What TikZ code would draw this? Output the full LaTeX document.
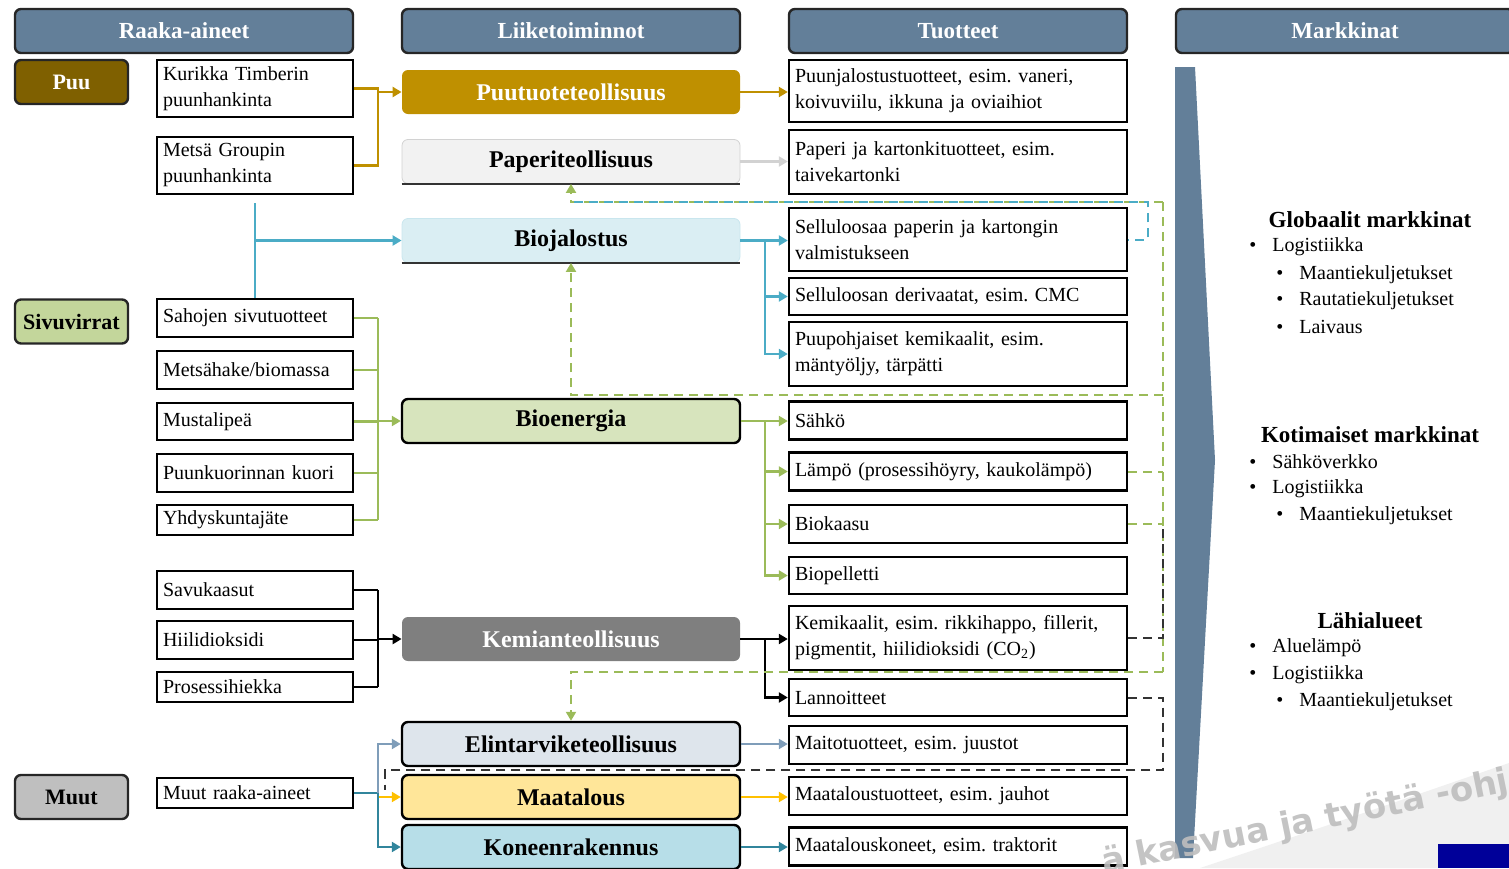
\documentclass[tikz,border=0pt]{standalone}
\usepackage{fontspec}
\setmainfont{Liberation Serif}
\newfontfamily\wmfont{DejaVu Sans}
\usetikzlibrary{arrows.meta}
\frenchspacing
\newcommand\bodyfont{\fontsize{10}{13}\selectfont}
\definecolor{slate}{RGB}{99,127,153}
\definecolor{puubrown}{RGB}{127,96,0}
\definecolor{gold}{RGB}{191,144,0}
\definecolor{paperfill}{RGB}{242,242,242}
\definecolor{paperline}{RGB}{210,210,210}
\definecolor{biofill}{RGB}{218,238,243}
\definecolor{bioblue}{RGB}{75,172,198}
\definecolor{energyfill}{RGB}{215,228,189}
\definecolor{sidefill}{RGB}{195,214,155}
\definecolor{leafgreen}{RGB}{155,187,89}
\definecolor{chemgrey}{RGB}{127,127,127}
\definecolor{muutgrey}{RGB}{191,191,191}
\definecolor{foodfill}{RGB}{222,229,236}
\definecolor{foodline}{RGB}{127,157,185}
\definecolor{farmfill}{RGB}{255,230,153}
\definecolor{farmline}{RGB}{255,192,0}
\definecolor{machfill}{RGB}{183,222,232}
\definecolor{machline}{RGB}{49,133,156}
\definecolor{wmgrey}{RGB}{190,190,190}
\definecolor{swoosh}{RGB}{240,240,240}
\definecolor{navyblock}{RGB}{0,0,153}
\begin{document}
\begin{tikzpicture}[x=0.5pt,y=-0.5pt,
	head/.style={draw=black!85,line width=1.2pt,rounded corners=3pt,fill=slate,text=white,minimum width=169pt,minimum height=22pt,font=\fontsize{11.5}{13}\selectfont\bfseries},
	cat/.style={draw=black!85,line width=1.2pt,rounded corners=3pt,minimum width=56.5pt,minimum height=22pt,inner sep=1pt,font=\fontsize{11}{13}\selectfont\bfseries},
	raw/.style={draw,line width=1.2pt,text width=92pt,inner xsep=3pt,inner ysep=0pt,minimum height=19pt,align=left,font=\bodyfont},
	biz/.style={rounded corners=3pt,minimum width=169pt,minimum height=22pt,font=\fontsize{12}{14}\selectfont\bfseries},
	prod/.style={draw,line width=1.2pt,text width=163pt,inner xsep=3pt,inner ysep=0pt,minimum height=19pt,align=left,font=\bodyfont},
	mhead/.style={font=\fontsize{11.5}{13}\selectfont\bfseries,inner sep=0pt},
	mitem/.style={anchor=west,font=\bodyfont,inner sep=0pt},
	conn/.style={line width=1.2pt},
	arr/.style={-{Triangle[length=4.5pt,width=5pt]}},
	dline/.style={line width=1pt,dash pattern=on 4.5pt off 3pt}]
	\useasboundingbox (0,0) rectangle (1509,868);
	%background----------------------------------
	\fill[swoosh] (1200,868) .. controls (1330,825) and (1430,790) .. (1509,763) -- (1509,868) -- cycle; %grey swoosh
	\fill[navyblock] (1438,844) rectangle (1509,868); %blue corner block
	%headers-------------------------------------
	\node[head] (hRaaka) at (184,31) {Raaka-aineet};
	\node[head] (hLiike) at (571,31) {Liiketoiminnot};
	\node[head] (hTuote) at (958,31) {Tuotteet};
	\node[head] (hMarkk) at (1345,31) {Markkinat};
	%raw materials-------------------------------
		%categories
		\node[cat,fill=puubrown,text=white] (puu) at (71.5,82) {Puu};
		\node[cat,fill=sidefill] (sivu) at (71.5,321.5) {Sivuvirrat};
		\node[cat,fill=muutgrey] (muut) at (71.5,797) {Muut};
		%sources
		\node[raw,minimum height=28.5pt] (kur) at (255,88.5) {Kurikka Timberin\\puunhankinta};
		\node[raw,minimum height=28.5pt] (metsa) at (255,165.5) {Metsä Groupin\\puunhankinta};
		\node[raw] (saho) at (255,318) {Sahojen sivutuotteet};
		\node[raw] (hake) at (255,370) {Metsähake/biomassa};
		\node[raw,minimum height=18.5pt] (musta) at (255,421.5) {Mustalipeä};
		\node[raw] (kuori) at (255,473) {Puunkuorinnan kuori};
		\node[raw,minimum height=15pt] (yhd) at (255,520) {Yhdyskuntajäte};
		\node[raw] (savu) at (255,590) {Savukaasut};
		\node[raw] (hiili) at (255,640) {Hiilidioksidi};
		\node[raw,minimum height=15pt] (pros) at (255,687) {Prosessihiekka};
		\node[raw,minimum height=15pt] (muutr) at (255,793) {Muut raaka-aineet};
	%business------------------------------------
	\node[biz,fill=gold,text=white] (puutuote) at (571,92) {Puutuoteteollisuus};
	\node[biz,fill=paperfill,draw=paperline] (paperi) at (571,161.5) {Paperiteollisuus};
	\node[biz,fill=biofill,draw=bioblue!30] (bioj) at (571,240.5) {Biojalostus};
	\node[biz,fill=energyfill,draw,line width=1.2pt] (bioen) at (571,421) {Bioenergia};
	\node[biz,fill=chemgrey,text=white] (kemia) at (571,639) {Kemianteollisuus};
	\node[biz,fill=foodfill,draw,line width=1.2pt] (elin) at (571,744) {Elintarviketeollisuus};
	\node[biz,fill=farmfill,draw,line width=1.2pt] (maat) at (571,797) {Maatalous};
	\node[biz,fill=machfill,draw,line width=1.2pt] (kone) at (571,847) {Koneenrakennus};
	\draw[black!80,line width=0.8pt] (paperi.south west) -- (paperi.south east); %shadow
	\draw[black!80,line width=0.8pt] (bioj.south west) -- (bioj.south east); %shadow
	%products------------------------------------
	\node[prod,minimum height=31pt] (p1) at (958,91) {Puunjalostustuotteet, esim. vaneri,\\koivuviilu, ikkuna ja oviaihiot};
	\node[prod,minimum height=32pt] (p2) at (958,162) {Paperi ja kartonkituotteet, esim.\\taivekartonki};
	\node[prod,minimum height=31.5pt] (p3) at (958,239.5) {Selluloosaa paperin ja kartongin\\valmistukseen};
	\node[prod,minimum height=18.5pt] (p4) at (958,296.5) {Selluloosan derivaatat, esim. CMC};
	\node[prod,minimum height=32pt] (p5) at (958,354) {Puupohjaiset kemikaalit, esim.\\mäntyöljy, tärpätti};
	\node[prod] (p6) at (958,420.5) {Sähkö};
	\node[prod] (p7) at (958,471.5) {Lämpö (prosessihöyry, kaukolämpö)};
	\node[prod] (p8) at (958,524) {Biokaasu};
	\node[prod,minimum height=18.5pt] (p9) at (958,575.5) {Biopelletti};
	\node[prod,minimum height=32pt] (p10) at (958,638) {Kemikaalit, esim. rikkihappo, fillerit,\\pigmentit, hiilidioksidi (CO\textsubscript{2})};
	\node[prod,minimum height=18.5pt] (p11) at (958,697.5) {Lannoitteet};
	\node[prod] (p12) at (958,745) {Maitotuotteet, esim. juustot};
	\node[prod] (p13) at (958,796) {Maataloustuotteet, esim. jauhot};
	\node[prod] (p14) at (958,846.5) {Maatalouskoneet, esim. traktorit};
	%bus lines-----------------------------------
	\coordinate (busL) at (378,0); %left bus
	\coordinate (busR) at (765,0); %right bus
	\coordinate (bTop) at (255,203); %blue start
	\coordinate (gTop) at (1163,202); %dashed top
	\coordinate (gMid) at (1163,395); %dashed middle
	\coordinate (gLow) at (1163,672); %dashed low
	\coordinate (bCorner) at (1148,202); %blue dashed corner
	\coordinate (kBot) at (1163,770); %black dashed corner
	\coordinate (kCorner) at (385,770); %black dashed end
	%Puu----------------------------------------
	\draw[conn,gold] (kur.east) -| (busL |- metsa.east) -- (metsa.east);
	\draw[conn,gold,arr] (busL |- puutuote.west) -- (puutuote.west);
	\draw[conn,gold,arr] (puutuote.east) -- (puutuote.east -| p1.west);
	\draw[conn,paperline,arr] (paperi.east) -- (paperi.east -| p2.west);
	\draw[conn,bioblue] (bTop) -- (saho.north);
	\draw[conn,bioblue,arr] (bTop |- bioj.west) -- (bioj.west);
	\draw[conn,bioblue,arr] (bioj.east) -- (bioj.east -| p3.west);
	\foreach \p in {p4,p5}
		\draw[conn,bioblue,arr] (bioj.east -| busR) |- (\p.west);
	%Sivuvirrat---------------------------------
	\foreach \r in {saho,hake,musta,kuori,yhd}
		\draw[conn,leafgreen] (\r.east) -- (\r.east -| busL);
	\draw[conn,leafgreen] (busL |- saho.east) -- (busL |- yhd.east);
	\draw[conn,leafgreen,arr] (busL |- bioen.west) -- (bioen.west);
	\draw[conn,leafgreen,arr] (bioen.east) -- (bioen.east -| p6.west);
	\foreach \p in {p7,p8,p9}
		\draw[conn,leafgreen,arr] (bioen.east -| busR) |- (\p.west);
	%Kemia--------------------------------------
	\foreach \r in {savu,hiili,pros}
		\draw[conn,black] (\r.east) -- (\r.east -| busL);
	\draw[conn,black] (busL |- savu.east) -- (busL |- pros.east);
	\draw[conn,black,arr] (busL |- kemia.west) -- (kemia.west);
	\draw[conn,black,arr] (kemia.east) -- (kemia.east -| p10.west);
	\draw[conn,black,arr] (kemia.east -| busR) |- (p11.west);
	%Muut---------------------------------------
	\draw[conn,machline] (muutr.east) -- (muutr.east -| busL);
	\draw[conn,foodline,arr] (busL |- muutr.east) |- (elin.west);
	\draw[conn,farmline,arr] (busL |- maat.west) -- (maat.west);
	\draw[conn,machline,arr] (busL |- muutr.east) |- (kone.west);
	\draw[conn,foodline,arr] (elin.east) -- (elin.east -| p12.west);
	\draw[conn,farmline,arr] (maat.east) -- (maat.east -| p13.west);
	\draw[conn,machline,arr] (kone.east) -- (kone.east -| p14.west);
	%dashed returns-----------------------------
	\draw[dline,leafgreen] (p7.east) -- (p7.east -| gTop);
	\draw[dline,leafgreen] (p8.east) -- (p8.east -| gTop);
	\draw[dline,leafgreen] (gTop) -- (gLow);
	\draw[dline,leafgreen,arr] (gTop) -- (paperi.south |- gTop) -- (paperi.south);
	\draw[dline,leafgreen,arr] (gMid) -- (bioj.south |- gMid) -- (bioj.south);
	\draw[dline,leafgreen,arr] (gLow) -- (elin.north |- gLow) -- (elin.north);
	\draw[dline,bioblue,dash phase=4pt] (p3.east) -| (bCorner) -- (paperi.south |- bCorner);
	\draw[dline,black!80] (p10.east) -| (gTop |- p8.east);
	\draw[dline,black!80] (p11.east) -| (kBot) -- (kCorner) -- ++(0,20);
	%markets------------------------------------
	\fill[slate] (1175,67) -- (1195,67) -- (1215,460) -- (1193,858) -- (1175,858) -- cycle; %chevron
	\node[mhead] (globH) at (1370,220) {Globaalit markkinat};
	\node[mitem] (glob1) at (1272,247) {\llap{\textbullet\hspace{8pt}}Logistiikka};
	\node[mitem] (glob2) at (1299,275) {\llap{\textbullet\hspace{8pt}}Maantiekuljetukset};
	\node[mitem] (glob3) at (1299,301) {\llap{\textbullet\hspace{8pt}}Rautatiekuljetukset};
	\node[mitem] (glob4) at (1299,327) {\llap{\textbullet\hspace{8pt}}Laivaus};
	\node[mhead] (kotiH) at (1370,435) {Kotimaiset markkinat};
	\node[mitem] (koti1) at (1272,462) {\llap{\textbullet\hspace{8pt}}Sähköverkko};
	\node[mitem] (koti2) at (1272,489) {\llap{\textbullet\hspace{8pt}}Logistiikka};
	\node[mitem] (koti3) at (1299,516) {\llap{\textbullet\hspace{8pt}}Maantiekuljetukset};
	\node[mhead] (lahiH) at (1370,621) {Lähialueet};
	\node[mitem] (lahi1) at (1272,648) {\llap{\textbullet\hspace{8pt}}Aluelämpö};
	\node[mitem] (lahi2) at (1272,675) {\llap{\textbullet\hspace{8pt}}Logistiikka};
	\node[mitem] (lahi3) at (1299,702) {\llap{\textbullet\hspace{8pt}}Maantiekuljetukset};
	%watermark----------------------------------
	\node[anchor=base west,rotate=11.5,inner sep=0pt,text=wmgrey,opacity=0.9,font=\wmfont\bfseries\fontsize{17}{19}\selectfont] (wmark) at (1104,874) {ä kasvua ja työtä -ohj};
\end{tikzpicture}
\end{document}
